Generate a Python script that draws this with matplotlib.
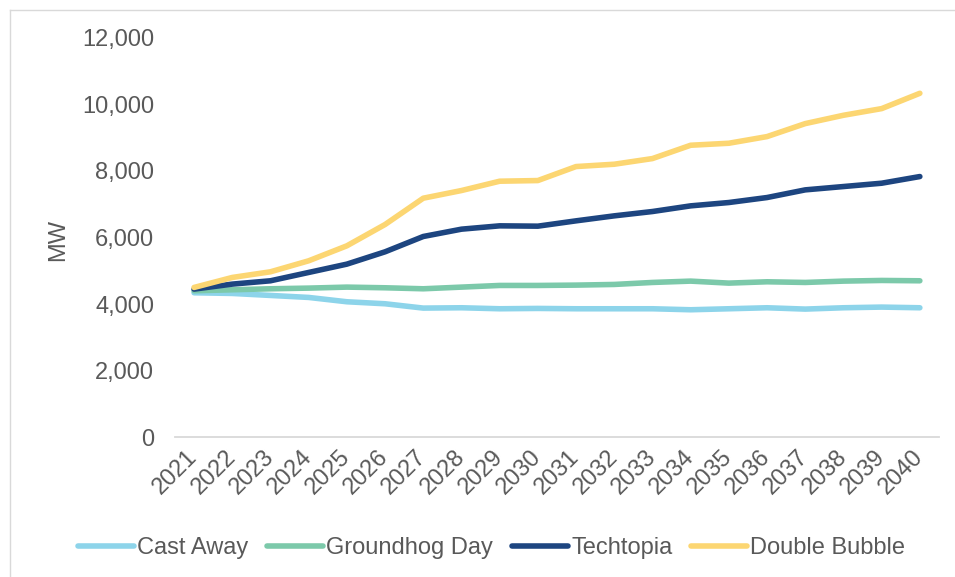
import matplotlib
matplotlib.use("Agg")
import matplotlib.pyplot as plt
from matplotlib.lines import Line2D
from matplotlib.ticker import FuncFormatter, MultipleLocator

plt.rcParams['font.family'] = ['Liberation Sans', 'DejaVu Sans']

years = list(range(2021, 2041))

cast_away = [4340, 4320, 4260, 4200, 4070, 4010, 3880, 3890, 3860, 3870,
             3860, 3860, 3860, 3830, 3860, 3890, 3850, 3890, 3910, 3890]
groundhog_day = [4400, 4430, 4460, 4480, 4510, 4490, 4460, 4510, 4560, 4560,
                 4570, 4590, 4650, 4690, 4630, 4670, 4650, 4690, 4710, 4700]
techtopia = [4450, 4600, 4700, 4950, 5200, 5570, 6030, 6250, 6350, 6340,
             6500, 6650, 6780, 6950, 7050, 7200, 7430, 7530, 7630, 7830]
double_bubble = [4500, 4800, 4970, 5300, 5750, 6390, 7180, 7410, 7690, 7710,
                 8130, 8200, 8370, 8770, 8830, 9030, 9420, 9670, 9870, 10330]

series_names = ["Cast Away", "Groundhog Day", "Techtopia", "Double Bubble"]
series_values = [cast_away, groundhog_day, techtopia, double_bubble]
series_colors = ["#8DD4EA", "#7CC9AA", "#1D4580", "#FCD672"]

text_gray = "#595959"

fig = plt.figure(figsize=(9.55, 5.77), dpi=100)
ax = fig.add_axes([0.1832, 0.2421, 0.8000, 0.6926])

for name, vals, col in zip(series_names, series_values, series_colors):
    ax.plot(years, vals, color=col, lw=4, label=name,
            solid_capstyle='round', solid_joinstyle='round')

ax.set_xlim(2020.5, 2040.5)
ax.set_ylim(0, 12000)
ax.yaxis.set_major_locator(MultipleLocator(2000))
ax.yaxis.set_major_formatter(FuncFormatter(lambda v, p: f"{int(v):,}"))
ax.set_xticks(years)
ax.set_xticklabels([str(y) for y in years], rotation=45, ha='right',
                   va='center', rotation_mode='anchor')

for side in ('top', 'right', 'left'):
    ax.spines[side].set_visible(False)
ax.spines['bottom'].set_color('#D9D9D9')
ax.spines['bottom'].set_linewidth(1.3)

ax.tick_params(axis='y', length=0, pad=15, labelsize=17, labelcolor=text_gray)
ax.tick_params(axis='x', length=0, pad=12, labelsize=17, labelcolor=text_gray)

fig.text(58 / 955, 1 - 240 / 577, "MW", rotation=90, ha='center', va='center',
         fontsize=17, color=text_gray)

fig.legend(loc='center', bbox_to_anchor=(0.515, 0.05), ncol=4, frameon=False,
           fontsize=17, labelcolor=text_gray, handlelength=2.35,
           handletextpad=0.15, columnspacing=0.8, borderaxespad=0)

# light frame around the chart area
fig.add_artist(Line2D([9.5 / 955, 1.0], [1 - 9.5 / 577, 1 - 9.5 / 577],
                      transform=fig.transFigure, color='#D9D9D9', lw=1))
fig.add_artist(Line2D([9.5 / 955, 9.5 / 955], [0.0, 1 - 9.5 / 577],
                      transform=fig.transFigure, color='#D9D9D9', lw=1))

fig.savefig("out.png", dpi=100)
